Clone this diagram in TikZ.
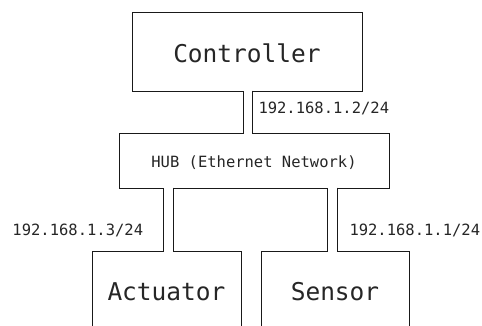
\documentclass[tikz,border=0pt]{standalone}
\usepackage{fontspec}
\setmonofont{DejaVu Sans Mono}

\begin{document}
\begin{tikzpicture}[
                x=1pt, y=-1pt,
                line width=1pt,
                % Define styles for boxes, pipes and addresses
                device/.style={rectangle, draw=black!90, fill=white, inner sep=0pt, outer sep=0pt,
                    text=black!85, text height=22pt, text depth=0pt,
                    font=\ttfamily\fontsize{24.5}{28}\selectfont},
                hub box/.style={device, text height=13pt,
                    font=\ttfamily\fontsize{15.5}{18}\selectfont},
                address/.style={inner sep=0pt, text=black!85,
                    font=\ttfamily\fontsize{15.5}{18}\selectfont},
                pipe/.style={draw=black!90, double=white, double distance=8.5pt,
                    shorten <=-0.5pt, shorten >=-0.5pt}
            ]
                \useasboundingbox (0,0) rectangle (482,325);
                \clip (0,0) rectangle (482,325);

                % Define boxes
                \node[device, minimum width=230pt, minimum height=79pt] (ctrl) at (247,51.5) {Controller};
                \node[hub box, minimum width=270pt, minimum height=55pt] (hub) at (254,160.5) {HUB (Ethernet Network)};
                \node[device, minimum width=149pt, minimum height=76pt] (act) at (166.5,289) {Actuator};
                \node[device, minimum width=148pt, minimum height=76pt] (sens) at (335,289) {Sensor};

                % Ports where the pipes meet the boxes
                \coordinate (ctrl-port) at ([xshift=1pt]ctrl.south);
                \coordinate (act-port) at ([xshift=2pt]act.north);
                \coordinate (sens-port) at ([xshift=-2.5pt]sens.north);

                % Draw pipes
                \draw[pipe] (ctrl-port) -- (ctrl-port |- hub.north);
                \draw[pipe] (act-port |- hub.south) -- (act-port);
                \draw[pipe] (sens-port |- hub.south) -- (sens-port);

                % Add addresses
                \node[address, anchor=base west] (ip-ctrl) at (258,113) {192.168.1.2/24};
                \node[address, anchor=base west] (ip-act) at (12,235) {192.168.1.3/24};
                \node[address, anchor=base west] (ip-sens) at (349,235) {192.168.1.1/24};
            \end{tikzpicture}
\end{document}
